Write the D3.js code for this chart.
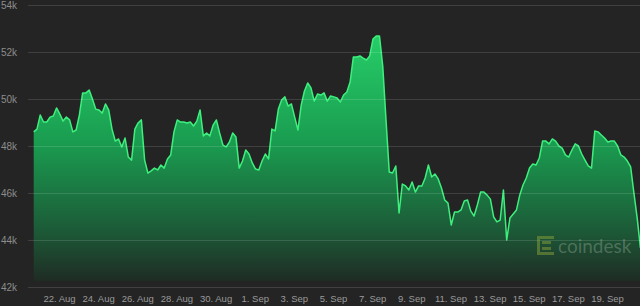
<!DOCTYPE html>
<html>
<head>
<meta charset="utf-8">
<script src="https://cdn.jsdelivr.net/npm/d3@7"></script>
<style>
  html, body { margin: 0; padding: 0; background: #242424; }
  svg { display: block; }
</style>
</head>
<body>
<div id="chart"></div>
<script>
const width = 640;
const height = 306;
const plotLeft = 28;
const plotTop = 5;
const plotBottom = 287;
const fillBottom = 281;

// BTC price (USD), one reading every 4 hours from 20 Aug 17:00
const startTime = new Date(2021, 7, 20, 17);
const stepHours = 4;
const prices = [
  48600, 48720, 49320, 49020, 49020, 49230, 49280, 49620, 49360, 49060,
  49230, 49110, 48600, 48680, 49320, 50260, 50260, 50380, 50000, 49570,
  49530, 49400, 49790, 49530, 48720, 48210, 48300, 47960, 48340, 47530,
  47400, 48720, 48980, 49110, 47400, 46850, 46940, 47060, 46980, 47190,
  47060, 47450, 47620, 48600, 49110, 49020, 49020, 48980, 49020, 48850,
  49060, 49530, 48430, 48550, 48430, 48890, 49110, 48550, 48040, 47960,
  48170, 48550, 48380, 47060, 47360, 47830, 47660, 47280, 47020, 46980,
  47360, 47660, 47450, 48720, 48640, 49570, 49960, 50090, 49700, 49790,
  49230, 48680, 49740, 50340, 50680, 50470, 49910, 50210, 50170, 50260,
  49910, 50130, 50090, 50040, 49870, 50170, 50300, 50720, 51790, 51790,
  51830, 51740, 51660, 51830, 52550, 52680, 52680, 51400, 49110, 46890,
  46850, 47150, 45150, 46380, 46300, 46130, 46470, 46040, 46300, 46300,
  46640, 47190, 46680, 46810, 46600, 46210, 45700, 45570, 44640, 45190,
  45190, 45280, 45660, 45700, 45230, 45020, 45490, 46040, 46040, 45910,
  45740, 44980, 44770, 44850, 46130, 44000, 44940, 45110, 45280, 45910,
  46340, 46640, 47060, 47230, 47190, 47490, 48210, 48210, 48090, 48300,
  48210, 48000, 47910, 47620, 47530, 47830, 48090, 48000, 47660, 47400,
  47150, 47060, 48640, 48600, 48470, 48340, 48170, 48210, 48210, 48000,
  47620, 47530, 47360, 47110, 46000, 44940, 43660
];

const yTicks = [42000, 44000, 46000, 48000, 50000, 52000, 54000];
const xTicks = [
  new Date(2021, 7, 22), new Date(2021, 7, 24), new Date(2021, 7, 26),
  new Date(2021, 7, 28), new Date(2021, 7, 30), new Date(2021, 8, 1),
  new Date(2021, 8, 3), new Date(2021, 8, 5), new Date(2021, 8, 7),
  new Date(2021, 8, 9), new Date(2021, 8, 11), new Date(2021, 8, 13),
  new Date(2021, 8, 15), new Date(2021, 8, 17), new Date(2021, 8, 19)
];

const data = prices.map((p, i) => ({
  date: d3.timeHour.offset(startTime, i * stepHours),
  price: p,
}));

const svg = d3.select('#chart')
  .append('svg')
  .attr('width', width)
  .attr('height', height)
  .style('background', '#242424');

const x = d3.scaleTime()
  .domain([new Date(2021, 7, 22), new Date(2021, 8, 19)])
  .range([59, 607]);

const y = d3.scaleLinear()
  .domain([42000, 54000])
  .range([plotBottom, plotTop]);

const grad = svg.append('defs')
  .append('linearGradient')
  .attr('id', 'fillGrad')
  .attr('gradientUnits', 'userSpaceOnUse')
  .attr('x1', 0).attr('x2', 0)
  .attr('y1', 30).attr('y2', fillBottom);
grad.append('stop').attr('offset', 0).attr('stop-color', '#27d06a');
grad.append('stop').attr('offset', 0.45).attr('stop-color', '#1a9c50');
grad.append('stop').attr('offset', 0.8).attr('stop-color', '#1c5a37');
grad.append('stop').attr('offset', 1).attr('stop-color', '#1f2c24');

svg.append('path')
  .datum(data)
  .attr('fill', 'url(#fillGrad)')
  .attr('d', d3.area()
    .x((d) => x(d.date))
    .y0(fillBottom)
    .y1((d) => y(d.price)));

svg.append('path')
  .datum(data)
  .attr('fill', 'none')
  .attr('stroke', '#3df07d')
  .attr('stroke-width', 1.5)
  .attr('stroke-linejoin', 'round')
  .attr('d', d3.line()
    .x((d) => x(d.date))
    .y((d) => y(d.price)));

// y axis: gridlines across the plot, labels at the far left
const yAxis = svg.append('g')
  .attr('class', 'yAxis')
  .attr('transform', `translate(${plotLeft},0)`)
  .call(d3.axisRight(y)
    .tickValues(yTicks)
    .tickSize(width - plotLeft)
    .tickFormat((d) => `${d / 1000}k`));
yAxis.select('.domain').remove();
yAxis.selectAll('line')
  .attr('stroke', 'rgba(255,255,255,0.13)')
  .attr('stroke-width', 1);
yAxis.selectAll('text')
  .attr('x', 1 - plotLeft)
  .attr('dy', '0.33em')
  .style('text-anchor', 'start')
  .style('font-family', 'Liberation Sans, Arial')
  .style('font-size', '10px')
  .attr('fill', '#8c8c8c');

const xAxis = svg.append('g')
  .attr('class', 'xAxis')
  .attr('transform', `translate(0,${plotBottom})`)
  .call(d3.axisBottom(x)
    .tickValues(xTicks)
    .tickSize(0)
    .tickPadding(8)
    .tickFormat(d3.timeFormat('%-d. %b')));
xAxis.select('.domain').remove();
xAxis.selectAll('text')
  .style('font-family', 'Liberation Sans, Arial')
  .style('font-size', '9.5px')
  .attr('fill', '#9a9a9a');

// coindesk watermark
const mark = svg.append('g').attr('class', 'watermark');
mark.append('path')
  .attr('d', 'M554,237.5 H538.5 V253.5 H554 M542,242.5 H551 M542,248.5 H551')
  .attr('fill', 'none')
  .attr('stroke', 'rgba(150,170,60,0.45)')
  .attr('stroke-width', 3);
mark.append('text')
  .attr('x', 558)
  .attr('y', 253)
  .text('coindesk')
  .style('font-family', 'Lato, Open Sans')
  .style('font-size', '19px')
  .attr('fill', 'rgba(185,195,185,0.33)');
</script>
</body>
</html>
